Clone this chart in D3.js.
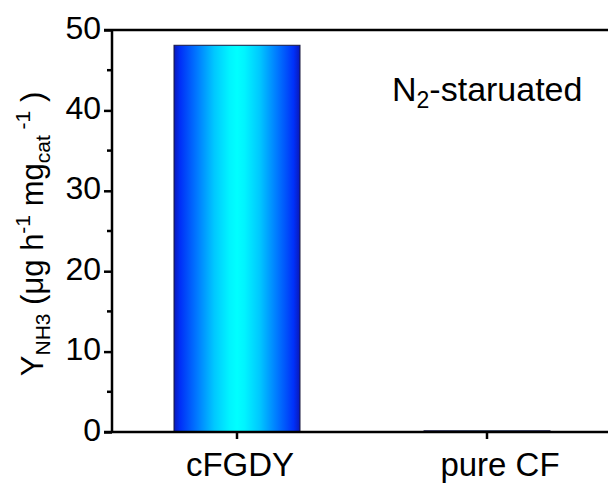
<!DOCTYPE html>
<html><head><meta charset="utf-8">
<script src="https://cdn.jsdelivr.net/npm/d3@7"></script>
<style>
html,body{margin:0;padding:0;background:#fff;}
svg{display:block;font-family:Arial,"Liberation Sans",sans-serif;}
</style></head>
<body>
<svg id="chart" width="608" height="486"></svg>
<script>
const categories = ["cFGDY", "pure CF"];
const values = [48.1, 0.15];
const yTicks = [0, 10, 20, 30, 40, 50];
const yMinorTicks = [5, 15, 25, 35, 45];

(function () {
const svg = d3.select("#chart");
const mLeft = 112, mRight = 612, mTop = 30, mBottom = 432;
const FONT = "Arial, 'Liberation Sans', sans-serif";

const x = d3.scaleBand().domain(categories).range([mLeft, mRight]).paddingInner(0.496).paddingOuter(0.248);
const y = d3.scaleLinear().domain([0, 50]).range([mBottom, mTop]);

const defs = svg.append("defs");
const grad = defs.append("linearGradient").attr("id", "barGrad").attr("x1", "0%").attr("x2", "100%").attr("y1", "0%").attr("y2", "0%");
[[0, "#0a18b8"], [0.05, "#0030f8"], [0.18, "#0078ff"], [0.32, "#00c8ff"], [0.44, "#00f4ff"], [0.5, "#00ffff"], [0.56, "#00f4ff"], [0.68, "#00c8ff"], [0.82, "#0078ff"], [0.95, "#0030f8"], [1, "#0a18b8"]]
  .forEach(([o, c]) => grad.append("stop").attr("offset", o).attr("stop-color", c));

// frame top line
svg.append("line").attr("x1", mLeft - 8).attr("x2", mRight).attr("y1", mTop).attr("y2", mTop)
  .attr("stroke", "#000").attr("stroke-width", 2.5);

// bars
svg.selectAll("rect.bar").data(categories).join("rect").attr("class", "bar")
  .attr("x", d => x(d)).attr("width", x.bandwidth())
  .attr("y", (d, i) => y(values[i])).attr("height", (d, i) => y(0) - y(values[i]))
  .attr("fill", "url(#barGrad)").attr("stroke", "#1a1a40").attr("stroke-width", 1);

// y axis
const yAxis = svg.append("g").attr("transform", `translate(${mLeft},0)`)
  .call(d3.axisLeft(y).tickValues(yTicks).tickSize(8).tickPadding(3).tickSizeOuter(0).tickFormat(d3.format("d")));
yAxis.select(".domain").attr("stroke-width", 2.5).attr("d", `M0,${mBottom + 1}V${mTop - 1}`);
yAxis.selectAll(".tick line").attr("stroke-width", 2.5);
yAxis.selectAll(".tick text").attr("font-size", 32).attr("font-family", FONT).attr("fill", "#000").attr("dy", "0.25em");
yAxis.selectAll(".minor").data(yMinorTicks).join("line").attr("class", "minor")
  .attr("x1", -5).attr("x2", 0).attr("y1", d => y(d)).attr("y2", d => y(d))
  .attr("stroke", "#000").attr("stroke-width", 2.5);

// x axis
const xAxis = svg.append("g").attr("transform", `translate(0,${mBottom})`)
  .call(d3.axisBottom(x).tickSize(7).tickPadding(13.5).tickSizeOuter(0));
xAxis.select(".domain").attr("stroke-width", 2.5).attr("d", `M${mLeft - 8},0H${mRight}`);
xAxis.selectAll(".tick line").attr("stroke-width", 2.5);
xAxis.selectAll(".tick text").attr("font-size", 33).attr("font-family", FONT).attr("fill", "#000")
  .attr("dx", (d, i) => i === 0 ? 3 : 13);

// annotation
const ann = svg.append("text").attr("x", 392).attr("y", 101).attr("font-size", 34).attr("font-family", FONT).attr("fill", "#000");
ann.append("tspan").text("N");
ann.append("tspan").attr("font-size", 23).attr("dy", 7).text("2");
ann.append("tspan").attr("dy", -7).text("-staruated");

// y title
const yt = svg.append("text").attr("transform", "translate(43,234) rotate(-90)")
  .attr("text-anchor", "middle").attr("font-size", 31).attr("font-family", FONT).attr("fill", "#000");
yt.append("tspan").text("Y");
yt.append("tspan").attr("font-size", 21).attr("dy", 7).text("NH3");
yt.append("tspan").attr("dy", -7).text(" (μg h");
yt.append("tspan").attr("font-size", 21).attr("dy", -13).text("-1");
yt.append("tspan").attr("dy", 13).text(" mg");
yt.append("tspan").attr("font-size", 21).attr("dy", 7).text("cat");
yt.append("tspan").attr("font-size", 21).attr("dy", -20).text(" -1");
yt.append("tspan").attr("dy", 13).text(" )");
})();
</script>
</body></html>
